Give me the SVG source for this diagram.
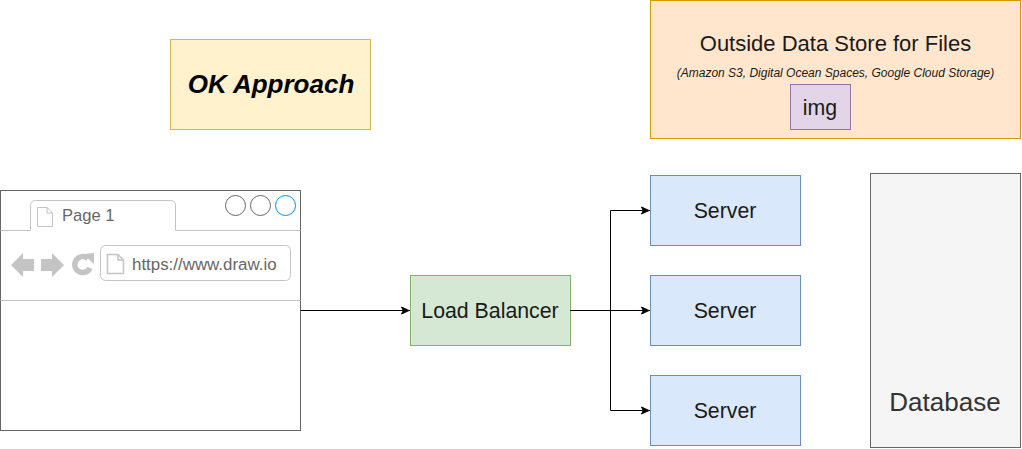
<svg xmlns="http://www.w3.org/2000/svg" width="1022" height="449" viewBox="0 0 1022 449">
<style>
text{font-family:"Liberation Sans",Arial,sans-serif;fill:#1a1a1a;text-anchor:middle}
.c{fill:none;stroke:#000;stroke-width:1}
.g{fill:none;stroke:#c4c4c4;stroke-width:1}
.ic{fill:#c4c4c4;stroke:none}
</style>
<defs><marker id="a" markerUnits="userSpaceOnUse" markerWidth="11" markerHeight="10" refX="9" refY="4.500" orient="auto"><path d="M0.500 1 L8 4.500 L0.500 8 L2.300 4.500 Z" fill="#000" stroke="#000" stroke-width="1"/></marker></defs>
<rect width="1022" height="449" fill="#fff"/>
<g id="approach"><rect x="170.500" y="39.500" width="200" height="90" fill="#fff2cc" stroke="#d6b656"/><text x="271" y="93" font-size="26" font-weight="bold" font-style="italic" style="fill:#000">OK Approach</text></g>
<g id="store"><rect x="650.500" y="0.500" width="370" height="138" fill="#ffe6cc" stroke="#d79b00"/><text x="835.500" y="51" font-size="22">Outside Data Store for Files</text><text x="835.500" y="77" font-size="12" font-style="italic">(Amazon S3, Digital Ocean Spaces, Google Cloud Storage)</text></g>
<g id="img"><rect x="790.500" y="84.500" width="60" height="45" fill="#e1d5e7" stroke="#9673a6"/><text x="820" y="115" font-size="21.300">img</text></g>
<g id="browser">
<rect x="0.500" y="190.500" width="300" height="240" fill="#fff" stroke="#666"/>
<path class="g" d="M0.500 230.500H30.500V205.500Q30.500 200.500 35.500 200.500H170.500Q175.500 200.500 175.500 205.500V230.500H300.500M0.500 300.500H300.500"/>
<path class="g" d="M37.500 207.500H47L52.500 213V226.500H37.500ZM47 207.500V213H52.500"/>
<text x="62" y="221" font-size="16.600" style="fill:#666;text-anchor:start">Page 1</text>
<circle cx="235.500" cy="205.500" r="10" fill="#fff" stroke="#666"/><circle cx="260.500" cy="205.500" r="10" fill="#fff" stroke="#666"/><circle cx="285.500" cy="205.500" r="10" fill="#fff" stroke="#008cff"/>
<path class="ic" d="M11 265L23 253V259H34V271H23V277ZM64 265L52 253V259H41V271H52V277Z"/>
<path fill="none" stroke="#c4c4c4" stroke-width="5.500" d="M88 258.500A8 8 0 1 0 90 268"/><path class="ic" d="M83 254L94 253V264Z"/>
<rect class="g" x="100.500" y="245.500" width="190" height="35" rx="5"/>
<path fill="none" stroke="#c4c4c4" stroke-width="1.500" d="M107.500 254.500H118L123.500 260V273.500H107.500ZM118 254.500V260H123.500"/>
<text x="132" y="270" font-size="16.900" style="fill:#666;text-anchor:start">https://www.draw.io</text>
</g>
<g id="lb"><rect x="410.500" y="275.500" width="160" height="70" fill="#d5e8d4" stroke="#82b366"/><text x="490" y="318" font-size="21.300">Load Balancer</text></g>
<g id="s1"><rect x="650.500" y="175.500" width="150" height="70" fill="#dae8fc" stroke="#6c8ebf"/><text x="725" y="218" font-size="21.300">Server</text></g>
<g id="s2"><rect x="650.500" y="275.500" width="150" height="70" fill="#dae8fc" stroke="#6c8ebf"/><text x="725" y="318" font-size="21.300">Server</text></g>
<g id="s3"><rect x="650.500" y="375.500" width="150" height="70" fill="#dae8fc" stroke="#6c8ebf"/><text x="725" y="418" font-size="21.300">Server</text></g>
<g id="db"><rect x="870.500" y="173.500" width="150" height="274" fill="#f5f5f5" stroke="#666"/><text x="945" y="411" font-size="26" style="fill:#333">Database</text></g>
<g id="connectors">
<path class="c" marker-end="url(#a)" d="M300.500 310.500H410"/>
<path class="c" marker-end="url(#a)" d="M570.500 310.500H650"/>
<path class="c" marker-end="url(#a)" d="M570.500 310.500H610.500V210.500H650"/>
<path class="c" marker-end="url(#a)" d="M570.500 310.500H610.500V410.500H650"/>
</g>
</svg>
